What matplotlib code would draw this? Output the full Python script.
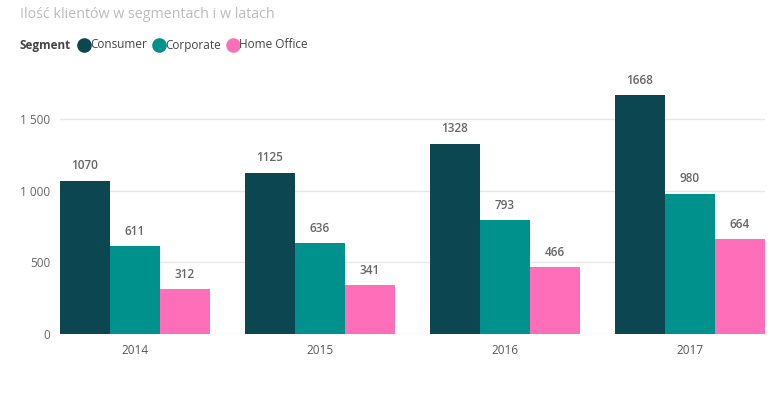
import matplotlib.pyplot as plt
import numpy as np
from matplotlib.lines import Line2D

# dane
lata = ["2014", "2015", "2016", "2017"]
segmenty = ["Consumer", "Corporate", "Home Office"]
consumer = [1070, 1125, 1328, 1668]
corporate = [611, 636, 793, 980]
home_office = [312, 341, 466, 664]
kolory = ["#0B4651", "#01918D", "#FF6FB9"]

plt.rcParams['font.family'] = ['Open Sans', 'DejaVu Sans']

fig = plt.figure(figsize=(7.77, 3.96), dpi=100)
ax = fig.add_axes([60/777, 62/396, 705/777, 250/396])

x = np.arange(len(lata))
w = 50/185
serie = [consumer, corporate, home_office]
for i, (vals, kol) in enumerate(zip(serie, kolory)):
    pos = x + (i-1)*w
    ax.bar(pos, vals, width=w, color=kol, zorder=2)
    for p, v in zip(pos, vals):
        ax.annotate(str(v), (p, v), xytext=(0, 6), textcoords="offset points",
                    ha="center", va="bottom", fontsize=8.5, color="#666666",
                    fontweight="semibold")

ax.set_xlim(-75/185, 3 + 75/185)
ax.set_ylim(0, 1745)
ax.set_xticks(x)
ax.set_xticklabels(lata, fontsize=8.5, color="#555555")
ax.set_yticks([0, 500, 1000, 1500])
ax.set_yticklabels(["0", "500", "1 000", "1 500"], fontsize=8.5, color="#666666")
ax.tick_params(length=0, pad=7)
ax.grid(axis="y", color="#E6E6E6", linewidth=1, zorder=0)
for s in ax.spines.values():
    s.set_visible(False)

# tytul
fig.text(20/777, 1 - 14/396, "Ilość klientów w segmentach i w latach",
         fontsize=10.3, color="#BBBBBB", va="center", ha="left")

# legenda
fig.canvas.draw()
r = fig.canvas.get_renderer()
ly = 1 - 45/396
t = fig.text(20/777, ly, "Segment", fontsize=8.5, fontweight="bold",
             color="#444444", va="center", ha="left")
xe = t.get_window_extent(r).x1 + 13
for nazwa, kol in zip(segmenty, kolory):
    fig.add_artist(Line2D([xe/777], [ly], marker="o", markersize=9.5,
                          color=kol, transform=fig.transFigure))
    t = fig.text((xe + 6)/777, ly, nazwa, fontsize=8.5, color="#444444",
                 va="center", ha="left")
    xe = t.get_window_extent(r).x1 + 12

fig.savefig("out.png", dpi=100)
